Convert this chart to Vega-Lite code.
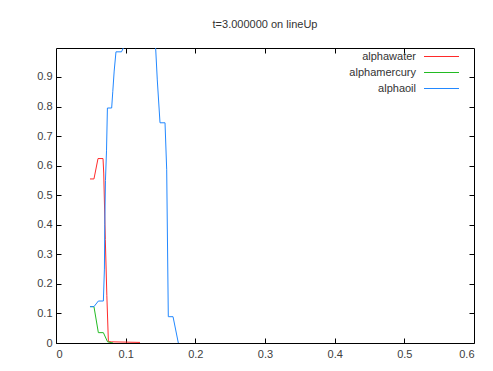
{
  "$schema": "https://vega.github.io/schema/vega-lite/v6.json",
  "width": 418,
  "height": 295,
  "autosize": {"type": "none"},
  "padding": {"left": 56, "top": 48, "right": 19, "bottom": 28},
  "background": "white",
  "title": {
    "text": "t=3.000000 on lineUp",
    "fontSize": 11,
    "font": "Liberation Sans",
    "fontWeight": "normal",
    "color": "#333333",
    "anchor": "middle",
    "offset": 17
  },
  "config": {
    "view": {"stroke": "#000000", "strokeWidth": 1},
    "axis": {
      "grid": false,
      "domain": false,
      "tickColor": "#000000",
      "tickSize": -5,
      "labelFont": "Liberation Sans",
      "labelFontSize": 11,
      "labelColor": "#404040",
      "title": null
    }
  },
  "data": {
    "values": [
      {"series": "alphawater", "i": 0, "x": 0.0488, "y": 0.555},
      {"series": "alphawater", "i": 1, "x": 0.0545, "y": 0.555},
      {"series": "alphawater", "i": 2, "x": 0.0603, "y": 0.624},
      {"series": "alphawater", "i": 3, "x": 0.0675, "y": 0.624},
      {"series": "alphawater", "i": 4, "x": 0.0685, "y": 0.575},
      {"series": "alphawater", "i": 5, "x": 0.0708, "y": 0.35},
      {"series": "alphawater", "i": 6, "x": 0.0730, "y": 0.16},
      {"series": "alphawater", "i": 7, "x": 0.0752, "y": 0.005},
      {"series": "alphawater", "i": 8, "x": 0.0800, "y": 0.004},
      {"series": "alphawater", "i": 9, "x": 0.1206, "y": 0.002},

      {"series": "alphamercury", "i": 0, "x": 0.0488, "y": 0.123},
      {"series": "alphamercury", "i": 1, "x": 0.0545, "y": 0.123},
      {"series": "alphamercury", "i": 2, "x": 0.0608, "y": 0.035},
      {"series": "alphamercury", "i": 3, "x": 0.0680, "y": 0.035},
      {"series": "alphamercury", "i": 4, "x": 0.0740, "y": 0.004},
      {"series": "alphamercury", "i": 5, "x": 0.0820, "y": 0.0},

      {"series": "alphaoil", "i": 0, "x": 0.0488, "y": 0.123},
      {"series": "alphaoil", "i": 1, "x": 0.0545, "y": 0.123},
      {"series": "alphaoil", "i": 2, "x": 0.0608, "y": 0.142},
      {"series": "alphaoil", "i": 3, "x": 0.0680, "y": 0.142},
      {"series": "alphaoil", "i": 4, "x": 0.0695, "y": 0.25},
      {"series": "alphaoil", "i": 5, "x": 0.0700, "y": 0.40},
      {"series": "alphaoil", "i": 6, "x": 0.0710, "y": 0.55},
      {"series": "alphaoil", "i": 7, "x": 0.0725, "y": 0.65},
      {"series": "alphaoil", "i": 8, "x": 0.0738, "y": 0.795},
      {"series": "alphaoil", "i": 9, "x": 0.0799, "y": 0.795},
      {"series": "alphaoil", "i": 10, "x": 0.0815, "y": 0.85},
      {"series": "alphaoil", "i": 11, "x": 0.0835, "y": 0.92},
      {"series": "alphaoil", "i": 12, "x": 0.0861, "y": 0.985},
      {"series": "alphaoil", "i": 13, "x": 0.0940, "y": 0.985},
      {"series": "alphaoil", "i": 14, "x": 0.0970, "y": 1.0},
      {"series": "alphaoil", "i": 15, "x": 0.1430, "y": 1.0},
      {"series": "alphaoil", "i": 16, "x": 0.1454, "y": 0.89},
      {"series": "alphaoil", "i": 17, "x": 0.1493, "y": 0.745},
      {"series": "alphaoil", "i": 18, "x": 0.1565, "y": 0.745},
      {"series": "alphaoil", "i": 19, "x": 0.1589, "y": 0.586},
      {"series": "alphaoil", "i": 20, "x": 0.1612, "y": 0.089},
      {"series": "alphaoil", "i": 21, "x": 0.1680, "y": 0.089},
      {"series": "alphaoil", "i": 22, "x": 0.1756, "y": 0.0}
    ]
  },
  "layer": [
    {
      "mark": {"type": "line", "strokeWidth": 1, "clip": true},
      "encoding": {
        "x": {
          "field": "x", "type": "quantitative",
          "scale": {"domain": [0, 0.6], "nice": false, "zero": false},
          "axis": {"orient": "bottom", "values": [0, 0.1, 0.2, 0.3, 0.4, 0.5, 0.6], "format": "~g", "labelPadding": 10}
        },
        "y": {
          "field": "y", "type": "quantitative",
          "scale": {"domain": [0, 0.998], "nice": false, "zero": false},
          "axis": {"orient": "left", "values": [0, 0.1, 0.2, 0.3, 0.4, 0.5, 0.6, 0.7, 0.8, 0.9], "format": "~g", "labelPadding": 9}
        },
        "order": {"field": "i", "type": "quantitative"},
        "color": {
          "field": "series", "type": "nominal",
          "scale": {
            "domain": ["alphawater", "alphamercury", "alphaoil"],
            "range": ["#ff2a2a", "#22bb22", "#2288ff"]
          },
          "legend": {
            "title": null,
            "orient": "none",
            "legendX": 380,
            "legendY": 3,
            "symbolType": "M-5,0H5",
            "symbolSize": 49,
            "symbolStrokeWidth": 1,
            "labelAlign": "right",
            "labelOffset": -31,
            "labelFont": "Liberation Sans",
            "labelFontSize": 11,
            "labelColor": "#333333",
            "rowPadding": 4
          }
        }
      }
    },
    {
      "mark": {"type": "line", "strokeWidth": 0, "opacity": 0},
      "encoding": {
        "x": {
          "field": "x", "type": "quantitative",
          "axis": {"orient": "top", "values": [0.1, 0.2, 0.3, 0.4, 0.5], "labels": false}
        },
        "y": {
          "field": "y", "type": "quantitative",
          "axis": {"orient": "right", "values": [0.1, 0.2, 0.3, 0.4, 0.5, 0.6, 0.7, 0.8, 0.9], "labels": false}
        },
        "detail": {"field": "series"}
      }
    }
  ],
  "resolve": {"axis": {"x": "independent", "y": "independent"}}
}
